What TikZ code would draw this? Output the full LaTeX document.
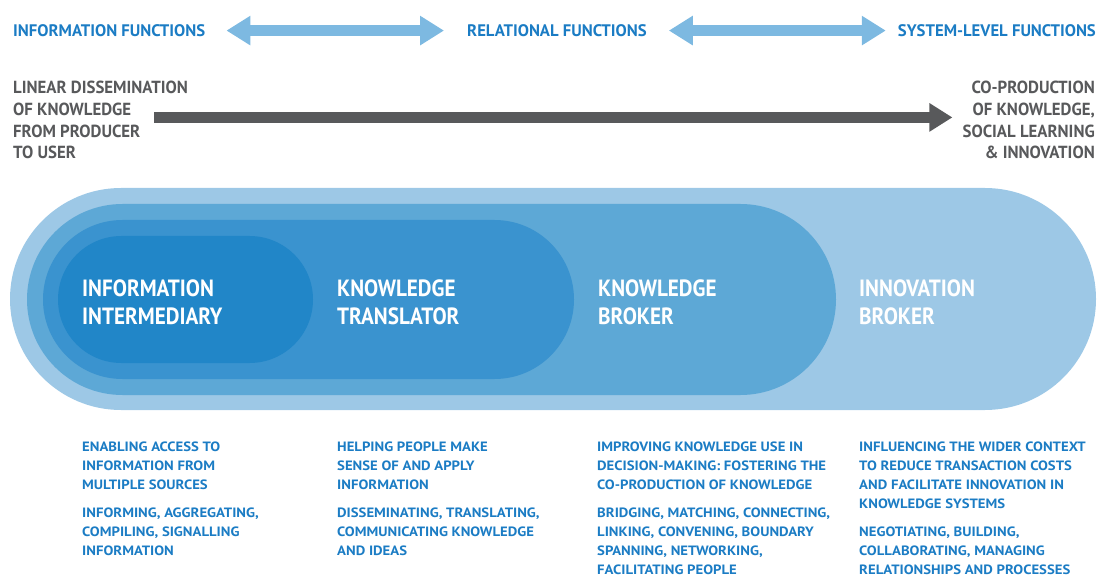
\documentclass[tikz,border=0pt]{standalone}
\usepackage{fontspec}
\setmainfont{PT Sans}
\newfontfamily\fnfont{PT Sans}[FakeStretch=1.0]
\newfontfamily\sidefont{PT Sans}[FakeStretch=0.96]
\newfontfamily\rolefont{PT Sans}[FakeStretch=0.9]
\newfontfamily\taskfont{PT Sans}[FakeStretch=1.09]
\usetikzlibrary{arrows.meta}

\begin{document}
\begin{tikzpicture}[x=1pt,y=-1pt,
 fnlabel/.style={inner sep=0pt,text=bl,
 font=\fnfont\bfseries\fontsize{16.7}{20}\selectfont},
 sidetext/.style={inner sep=0pt,text=gr,
 font=\sidefont\bfseries\fontsize{17.5}{21.7}\selectfont},
 rolename/.style={inner sep=0pt,anchor=north west,align=left,
 text=white,font=\rolefont\bfseries\fontsize{23.5}{28}\selectfont},
 tasktext/.style={inner sep=0pt,anchor=north west,align=left,
 text=bl,font=\taskfont\bfseries\fontsize{13.5}{19}\selectfont},
 twoway/.style={line width=11.7pt,draw=ar,
 {Triangle[width=28pt,length=24pt]}-{Triangle[width=28pt,length=24pt]}},
 fatflow/.style={line width=11.7pt,draw=gr,
 -{Triangle[width=27pt,length=23pt]}}]
 \definecolor{bl}{RGB}{27,124,196}
 \definecolor{ar}{RGB}{125,185,225}
 \definecolor{gr}{RGB}{88,89,91}
 \definecolor{s1}{RGB}{33,134,200}
 \definecolor{s2}{RGB}{58,147,207}
 \definecolor{s3}{RGB}{93,168,214}
 \definecolor{s4}{RGB}{157,200,230}
 \useasboundingbox (0,0) rectangle (1097,577);
 \node[fnlabel,anchor=north west] (infofn) at (13,24.3)
 {INFORMATION FUNCTIONS};
 \node[fnlabel,anchor=north west] (relfn) at (467,24.3)
 {RELATIONAL FUNCTIONS};
 \node[fnlabel,anchor=north east] (sysfn) at (1096,24.3)
 {SYSTEM-LEVEL FUNCTIONS};
 \draw[twoway,shorten <=21pt,shorten >=23pt] (infofn) -- (relfn);
 \draw[twoway,shorten <=22pt,shorten >=12pt] (relfn) -- (sysfn);
 \node[sidetext,anchor=north west,align=left] (linear) at (13,81)
 {LINEAR DISSEMINATION\\OF KNOWLEDGE\\FROM PRODUCER\\TO USER};
 \node[sidetext,anchor=north east,align=right] (coprod) at (1095,81)
 {CO-PRODUCTION\\OF KNOWLEDGE,\\SOCIAL LEARNING\\\& INNOVATION};
 \draw[fatflow] ([xshift=-34pt,yshift=2.7pt]linear.east)
 -- ([xshift=-10pt,yshift=2.7pt]coprod.west);
 \foreach \col/\xl/\xr/\yt/\yb/\rad in {
   s4/10/1096/188/410/111, s3/27/836/204/395/95.5,
   s2/43/574/220/379/79.5, s1/58/313/236/363/63.5
 } {
   \fill[\col,rounded corners=\rad pt]
   (\xl,\yt) rectangle (\xr,\yb);
 }
 \node[rolename] (infoint) at (82,280) {INFORMATION\\INTERMEDIARY};
 \node[rolename] (knowtrans) at (337,280) {KNOWLEDGE\\TRANSLATOR};
 \node[rolename] (knowbrok) at (598,280) {KNOWLEDGE\\BROKER};
 \node[rolename] (innobrok) at (859,280) {INNOVATION\\BROKER};
 \node[tasktext] (enabling) at (82,441.7)
 {ENABLING ACCESS TO\\INFORMATION FROM\\MULTIPLE SOURCES\\[9.4pt]
 INFORMING, AGGREGATING,\\COMPILING, SIGNALLING\\INFORMATION};
 \node[tasktext] (helping) at (337,441.7)
 {HELPING PEOPLE MAKE\\SENSE OF AND APPLY\\INFORMATION\\[9.4pt]
 DISSEMINATING, TRANSLATING,\\COMMUNICATING KNOWLEDGE\\AND IDEAS};
 \node[tasktext] (improving) at (597,441.7)
 {IMPROVING KNOWLEDGE USE IN\\DECISION-MAKING: FOSTERING THE\\
 CO-PRODUCTION OF KNOWLEDGE\\[9.4pt]
 BRIDGING, MATCHING, CONNECTING,\\LINKING, CONVENING, BOUNDARY\\
 SPANNING, NETWORKING,\\FACILITATING PEOPLE};
 \node[tasktext] (influencing) at (859,441.7)
 {INFLUENCING THE WIDER CONTEXT\\TO REDUCE TRANSACTION COSTS\\
 AND FACILITATE INNOVATION IN\\KNOWLEDGE SYSTEMS\\[9.4pt]
 NEGOTIATING, BUILDING,\\COLLABORATING, MANAGING\\
 RELATIONSHIPS AND PROCESSES};
\end{tikzpicture}
\end{document}
